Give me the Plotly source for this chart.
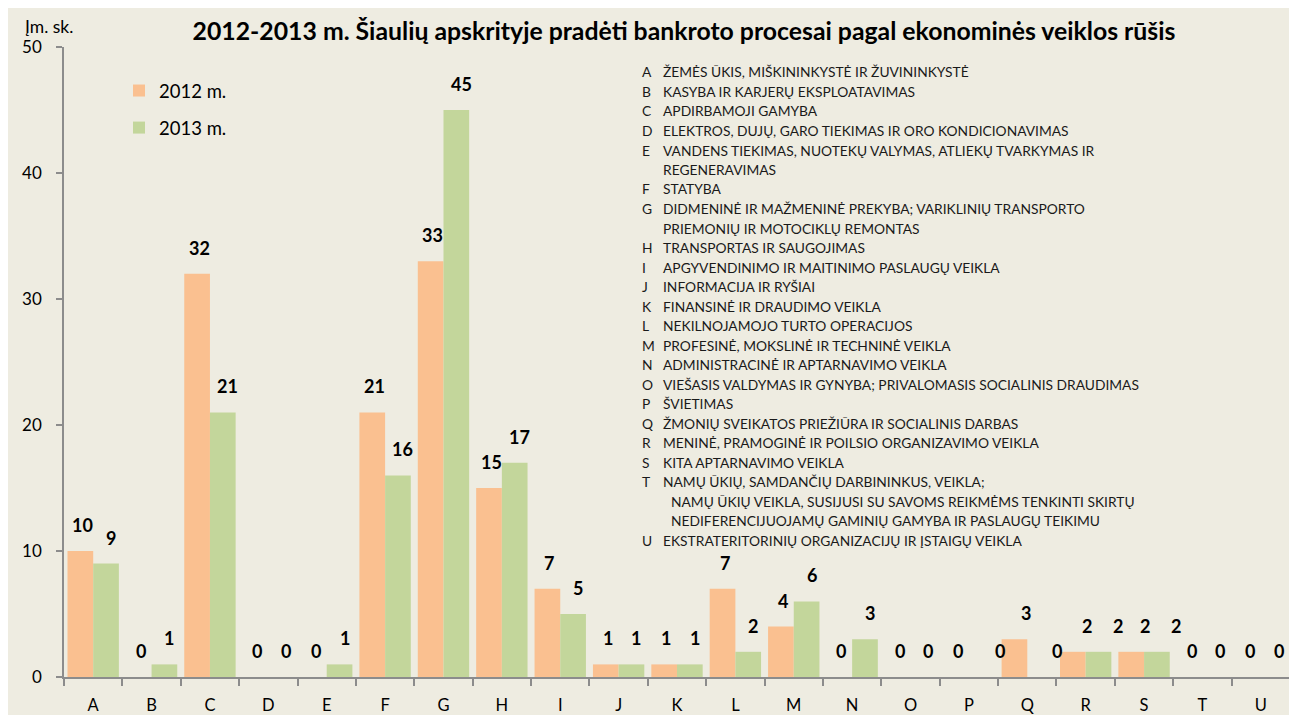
import plotly.graph_objects as go

# ---------------- data ----------------
categories = list("ABCDEFGHIJKLMNOPQRSTU")
values_2012 = [10, 0, 32, 0, 0, 21, 33, 15, 7, 1, 1, 7, 4, 0, 0, 0, 3, 2, 2, 0, 0]
values_2013 = [9, 1, 21, 0, 1, 16, 45, 17, 5, 1, 1, 2, 6, 3, 0, 0, 0, 2, 2, 0, 0]
series_names = ["2012 m.", "2013 m."]

title_text = "2012-2013 m. Šiaulių apskrityje pradėti bankroto procesai pagal ekonominės veiklos rūšis"
y_axis_title = "Įm. sk."

descriptions = [
    ("A", ["ŽEMĖS ŪKIS, MIŠKININKYSTĖ IR ŽUVININKYSTĖ"]),
    ("B", ["KASYBA IR KARJERŲ EKSPLOATAVIMAS"]),
    ("C", ["APDIRBAMOJI GAMYBA"]),
    ("D", ["ELEKTROS, DUJŲ, GARO TIEKIMAS IR ORO KONDICIONAVIMAS"]),
    ("E", ["VANDENS TIEKIMAS, NUOTEKŲ VALYMAS, ATLIEKŲ TVARKYMAS IR", "REGENERAVIMAS"]),
    ("F", ["STATYBA"]),
    ("G", ["DIDMENINĖ IR MAŽMENINĖ PREKYBA; VARIKLINIŲ TRANSPORTO", "PRIEMONIŲ IR MOTOCIKLŲ REMONTAS"]),
    ("H", ["TRANSPORTAS IR SAUGOJIMAS"]),
    ("I", ["APGYVENDINIMO IR MAITINIMO PASLAUGŲ VEIKLA"]),
    ("J", ["INFORMACIJA IR RYŠIAI"]),
    ("K", ["FINANSINĖ IR DRAUDIMO VEIKLA"]),
    ("L", ["NEKILNOJAMOJO TURTO OPERACIJOS"]),
    ("M", ["PROFESINĖ, MOKSLINĖ IR TECHNINĖ VEIKLA"]),
    ("N", ["ADMINISTRACINĖ IR APTARNAVIMO VEIKLA"]),
    ("O", ["VIEŠASIS VALDYMAS IR GYNYBA; PRIVALOMASIS SOCIALINIS DRAUDIMAS"]),
    ("P", ["ŠVIETIMAS"]),
    ("Q", ["ŽMONIŲ SVEIKATOS PRIEŽIŪRA IR SOCIALINIS DARBAS"]),
    ("R", ["MENINĖ, PRAMOGINĖ IR POILSIO ORGANIZAVIMO VEIKLA"]),
    ("S", ["KITA APTARNAVIMO VEIKLA"]),
    ("T", ["NAMŲ ŪKIŲ, SAMDANČIŲ DARBININKUS, VEIKLA;",
           "NAMŲ ŪKIŲ VEIKLA, SUSIJUSI SU SAVOMS REIKMĖMS TENKINTI SKIRTŲ",
           "NEDIFERENCIJUOJAMŲ GAMINIŲ GAMYBA IR PASLAUGŲ TEIKIMU"]),
    ("U", ["EKSTRATERITORINIŲ ORGANIZACIJŲ IR ĮSTAIGŲ VEIKLA"]),
]

# ---------------- style ----------------
OFF = 8                      # page body margin
W, H = 1297 - OFF, 715 - OFF
ML, MR, MT, MB = 56, 7, 39, 38
PW, PH = W - ML - MR, H - MT - MB
FONT = "Lato"
BG = "#EEECE1"
C2012 = "#FAC090"
C2013 = "#C3D69B"
AXIS = "#8C8C8C"
BARGAP = 0.12

def px_x(p):
    """page pixel x -> plot paper fraction"""
    return (p - OFF - ML) / PW

def px_y(p):
    """page pixel y -> plot paper fraction"""
    return (H - MB - (p - OFF)) / PH

fig = go.Figure()
fig.add_trace(go.Bar(x=categories, y=values_2012, name=series_names[0],
                     marker=dict(color=C2012, line=dict(width=0)), legendgroup="a"))
fig.add_trace(go.Bar(x=categories, y=values_2013, name=series_names[1],
                     marker=dict(color=C2013, line=dict(width=0)), legendgroup="b"))

annotations = []
# bar value labels
cat_px = PW / len(categories)
half = cat_px * (1 - BARGAP) / 4
extra_shift = {("P", 1): 13, ("Q", 0): 10, ("Q", 1): 12, ("R", 0): 12, ("R", 1): 14,
               ("S", 0): 12, ("S", 1): 14}
for si, vals in enumerate([values_2012, values_2013]):
    base = -half + 2 if si == 0 else half + 5
    for c, v in zip(categories, vals):
        annotations.append(dict(
            x=c, y=v, xref="x", yref="y", text=f"<b>{v}</b>", showarrow=False,
            xshift=base + extra_shift.get((c, si), 0), yshift=26,
            font=dict(family=FONT, size=18, color="#000000")))

# description block
line_h = 19.5
y0 = 72
DESC_SIZE = 13.8
i = 0
for letter, lines in descriptions:
    annotations.append(dict(x=px_x(640), y=px_y(y0 + i * line_h), xref="paper", yref="paper",
                            text=letter, showarrow=False, xanchor="left", yanchor="middle",
                            font=dict(family=FONT, size=DESC_SIZE, color="#1a1a1a")))
    for j, ln in enumerate(lines):
        xs = 661 if not (letter == "T" and j > 0) else 669
        annotations.append(dict(x=px_x(xs), y=px_y(y0 + i * line_h), xref="paper", yref="paper",
                                text=ln, showarrow=False, xanchor="left", yanchor="middle",
                                font=dict(family=FONT, size=DESC_SIZE, color="#1a1a1a")))
        i += 1

# y axis unit label
annotations.append(dict(x=px_x(49), y=px_y(27), xref="paper", yref="paper", text=y_axis_title,
                        showarrow=False, xanchor="center", yanchor="middle",
                        font=dict(family=FONT, size=17.5, color="#000000")))

fig.update_layout(
    width=W, height=H,
    margin=dict(l=ML, r=MR, t=MT, b=MB, autoexpand=False),
    paper_bgcolor=BG, plot_bgcolor=BG,
    barmode="group", bargap=BARGAP, bargroupgap=0,
    font=dict(family=FONT, color="#000000"),
    title=dict(text=f"<b>{title_text}</b>", x=(684 - OFF) / W, xanchor="center",
               y=1 - (31 - OFF) / H, yanchor="middle",
               font=dict(family=FONT, size=24.8, color="#000000")),
    legend=dict(x=px_x(119), y=px_y(72), xanchor="left", yanchor="top", bgcolor="rgba(0,0,0,0)",
                font=dict(family=FONT, size=18.5, color="#000000"), tracegroupgap=10,
                traceorder="grouped"),
    annotations=annotations,
    xaxis=dict(showline=True, linecolor=AXIS, linewidth=1.5, ticks="outside", tickson="boundaries",
               ticklen=7, tickcolor=AXIS, tickwidth=1.5, showgrid=False, ticklabelstandoff=12,
               automargin=False,
               tickfont=dict(family=FONT, size=16.5, color="#000000")),
    yaxis=dict(range=[0, 50], dtick=10, showline=True, linecolor=AXIS, linewidth=1.5,
               ticks="outside", ticklen=6, tickcolor=AXIS, tickwidth=1.5, showgrid=False,
               zeroline=False, ticklabelstandoff=11, automargin=False,
               tickfont=dict(family=FONT, size=17, color="#000000")),
)

fig.write_html("out.html")
